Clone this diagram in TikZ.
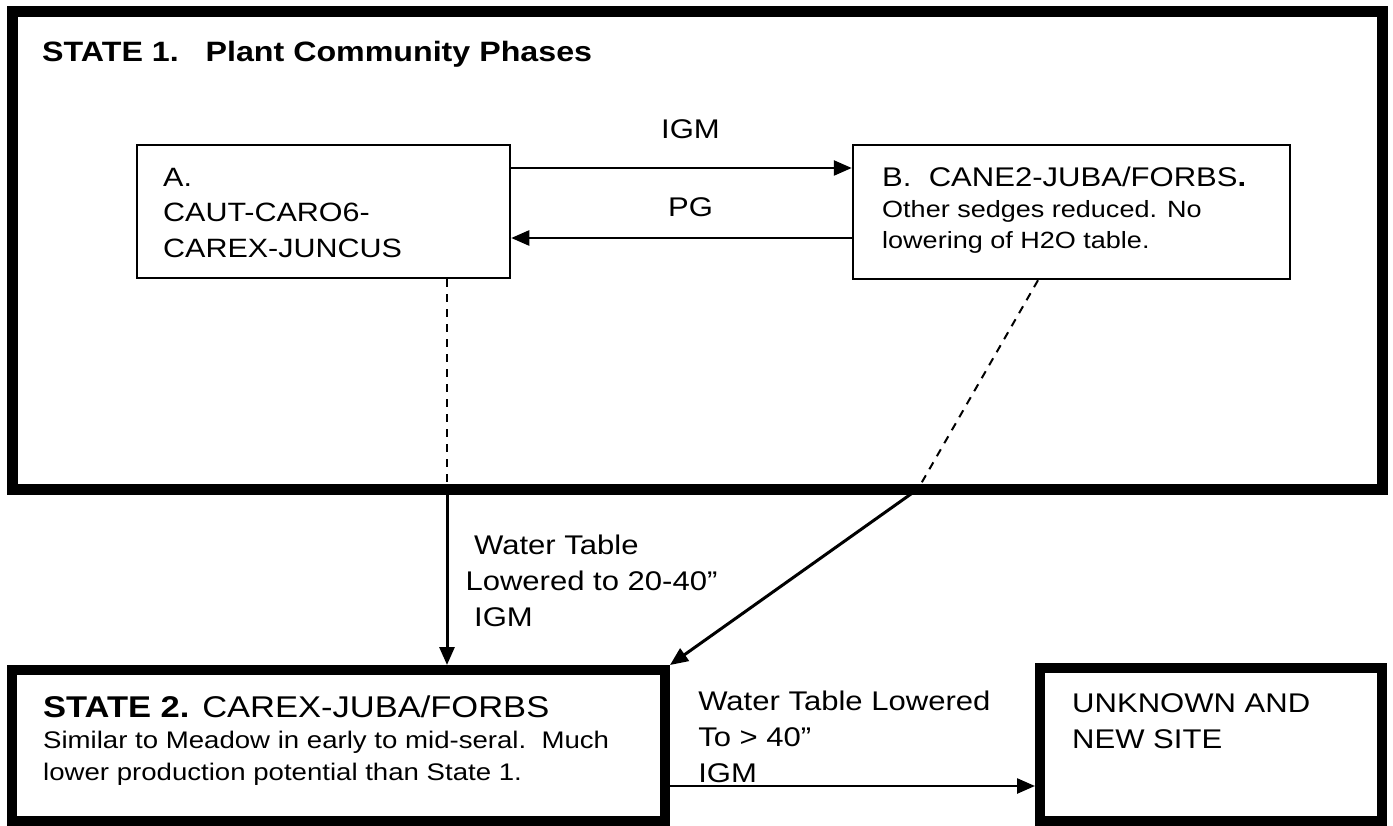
\documentclass[tikz,border=0pt]{standalone}
\usepackage{fontspec}
\setmainfont{Liberation Sans}[FakeStretch=1.15]
\usetikzlibrary{arrows.meta,positioning}
\tikzset{
    state-box/.style = {draw, line width=11pt, rectangle, inner sep=0pt},
    phase-box/.style = {draw, line width=2.5pt, rectangle, inner sep=0pt},
    box-text/.style = {inner sep=0pt, align=left},
    trans-label/.style = {inner sep=0pt, align=left, font=\fontsize{27}{36}\selectfont},
    trans-arrow/.style = {line width=3pt, -{Triangle[length=18pt, width=15pt]}},
    drop-line/.style = {line width=2pt, dash pattern=on 8pt off 7pt},
}

\begin{document}
\begin{tikzpicture}[x=1pt, y=-1pt]
\useasboundingbox (0,0) rectangle (1393,826);

% states
\node [state-box, minimum width=1370pt, minimum height=477pt] (state1) at (697,250.5) {};
\node [state-box, line width=10pt, minimum width=653pt, minimum height=151pt] (state2) at (338.5,745.5) {};
\node [state-box, line width=10pt, minimum width=342pt, minimum height=153pt] (unknown) at (1211,744.5) {};

% community phases
\node [phase-box, minimum width=373pt, minimum height=133pt] (phaseA) at (323.5,211.5) {};
\node [phase-box, minimum width=437pt, minimum height=134pt] (phaseB) at (1071.5,212) {};

\node [box-text, font=\fontsize{28}{34}\selectfont\bfseries, below right=34.5pt and 35.5pt of state1.north west] (state1-title) {STATE 1.\ \ \ Plant Community Phases};
\node [box-text, font=\fontsize{26.5}{35.5}\selectfont, below right=24.25pt and 27.25pt of phaseA.north west] (phaseA-text) {A.\\CAUT-CARO6-\\CAREX-JUNCUS};
\node [box-text, font=\fontsize{23.5}{31}\selectfont, below right=22.85pt and 30.25pt of phaseB.north west] (phaseB-text) {{\fontsize{27}{31}\selectfont B.\ \ CANE2-JUBA/FORBS\textbf{.}}\\Other sedges reduced. No\\lowering of H2O table.};
\node [box-text, font=\fontsize{24}{31.5}\selectfont, below right=30.5pt and 36pt of state2.north west] (state2-text) {{\fontsize{30}{33}\selectfont\textbf{STATE 2.} CAREX-JUBA/FORBS}\\Similar to Meadow in early to mid-seral.\ \ Much\\lower production potential than State 1.};
\node [box-text, font=\fontsize{27}{36}\selectfont, below right=30.7pt and 37pt of unknown.north west] (unknown-text) {UNKNOWN AND\\NEW SITE};

% transitions
\draw [trans-arrow, line width=2.5pt] ([yshift=43.5pt]phaseA.east) -- node [trans-label, above=28pt, xshift=9pt] {IGM} ([yshift=44pt]phaseB.west);
\draw [trans-arrow, line width=2.5pt] ([yshift=-26pt]phaseB.west) -- node [trans-label, above=20pt, xshift=9pt] {PG} ([yshift=-26.5pt]phaseA.east);

\coordinate (crossA) at (447,489);
\coordinate (crossB) at (918,489);
\draw [drop-line] ([xshift=123.5pt]phaseA.south) -- (crossA);
\draw [drop-line] ([xshift=-33.5pt]phaseB.south) -- (crossB);
\draw [trans-arrow] (crossA) -- node [trans-label, right=17pt, yshift=-4pt] {\ Water Table\\Lowered to 20-40”\\\ IGM} (crossA |- state2.north);
\draw [trans-arrow] (crossB) -- (state2.north east);

\draw [trans-arrow, line width=2.5pt] ([yshift=-40.5pt]state2.east) -- node [trans-label, pos=0, above right=2pt and 27pt] {Water Table Lowered\\To > 40”\\IGM} ([yshift=-41.5pt]unknown.west);
\end{tikzpicture}
\end{document}
